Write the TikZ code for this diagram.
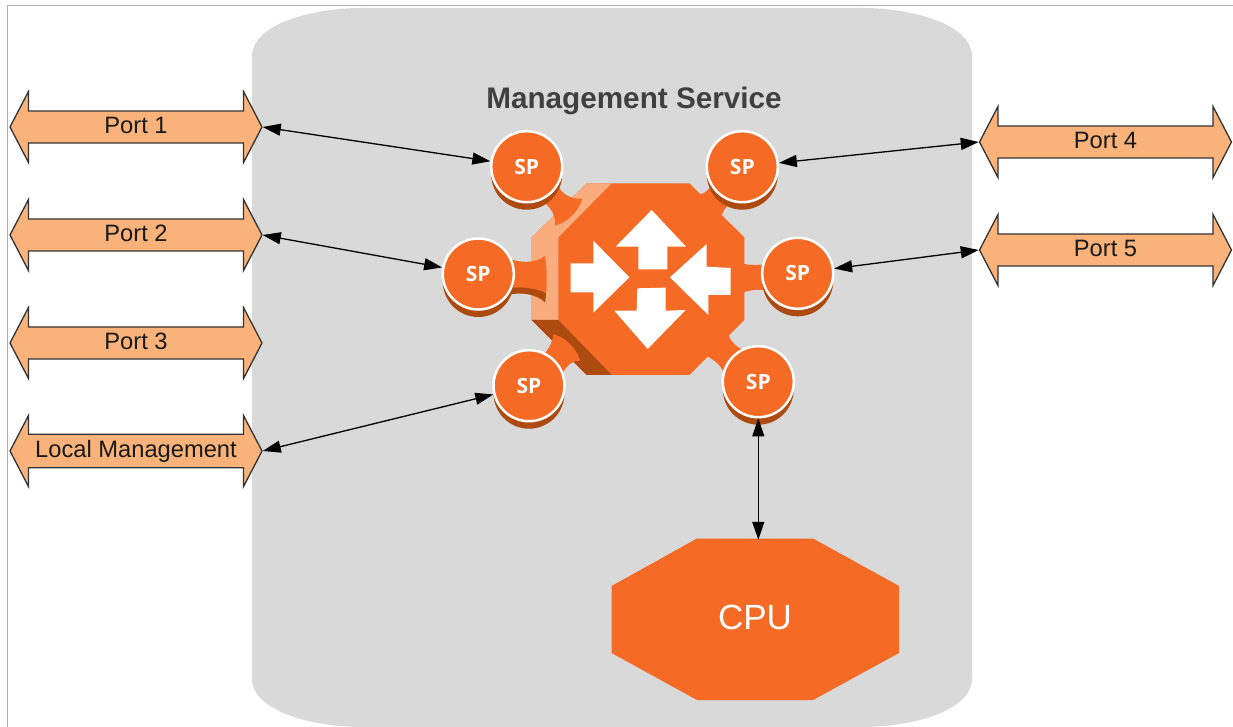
\documentclass[tikz,border=0pt]{standalone}
\usepackage{fontspec}
\setmainfont{Liberation Sans}
\newfontfamily\spfont{Open Sans}
\usetikzlibrary{shapes.arrows,shadows,arrows.meta}
\definecolor{orangeM}{HTML}{F56A24}
\definecolor{orangeD}{HTML}{AD4A10}
\definecolor{orangeL}{HTML}{F9AD7F}
\definecolor{bodygray}{HTML}{D9D9D9}
\definecolor{portfill}{HTML}{F8B27A}
\definecolor{framegray}{HTML}{B0B0B0}
\definecolor{titlegray}{HTML}{404040}
\tikzset{
  portarrow/.style={double arrow, draw=black!80, line width=1.3bp, fill=portfill,
    minimum height=252bp, minimum width=71bp, double arrow head extend=13bp,
    double arrow tip angle=125, inner sep=0pt, text=black!90,
    font=\fontsize{23.7bp}{24bp}\selectfont},
  spnode/.style={circle, fill=orangeM, draw=white, line width=2.5bp, minimum size=71bp,
    inner sep=0pt, text=white, font=\fontsize{21bp}{21bp}\spfont\bfseries,
    general shadow={shadow yshift=-7.5bp, shadow xshift=0bp, fill=orangeD}},
  link/.style={{Triangle[length=18bp,width=12bp]}-{Triangle[length=18bp,width=12bp]}, line width=1.3bp, black},
  whitearrow/.style={fill=white},
  cpubox/.style={rectangle, minimum width=288bp, minimum height=162bp, inner sep=0pt, text=white,
    font=\fontsize{35bp}{35bp}\selectfont},
}
\begin{document}
\begin{tikzpicture}[x=1bp,y=-1bp]
\useasboundingbox (0,0) rectangle (1233,727);
\fill[white] (0,0) rectangle (1233,727);
% frame
\draw[framegray,line width=1bp] (7,727) -- (7,5.5) -- (1233,5.5);
% body
\fill[bodygray] (252,56) .. controls (252,25) and (310,8) .. (362,8)
  -- (862,8) .. controls (914,8) and (972,25) .. (972,56)
  -- (972,679) .. controls (972,710) and (914,727) .. (862,727)
  -- (362,727) .. controls (310,727) and (252,710) .. (252,679) -- cycle;
\node[font=\fontsize{29.7bp}{30bp}\selectfont\bfseries,text=titlegray] (title) at (634,101) {Management Service};
% ports
\node[portarrow] (p1) at (136,127) {\raisebox{3.5bp}{Port 1}};
\node[portarrow] (p2) at (136,235) {\raisebox{3.5bp}{Port 2}};
\node[portarrow] (p3) at (136,343) {\raisebox{3.5bp}{Port 3}};
\node[portarrow] (pl) at (136,451) {\raisebox{3.5bp}{Local Management}};
\node[portarrow] (p4) at (1105.5,142) {\raisebox{3.5bp}{Port 4}};
\node[portarrow] (p5) at (1105.5,250) {\raisebox{3.5bp}{Port 5}};
% router, in zoom coordinates
\begin{scope}[shift={(430,120)},x=0.33333bp,y=-0.33333bp]
  \fill[orangeM] (470,190) -- (778,190) -- (943,352) -- (943,600) -- (778,765) -- (470,765) -- (305,600) -- (305,352) -- cycle;
  \fill[orangeL] (305,352) -- (470,190) -- (545,190) -- (385,352) -- (385,600) -- (305,600) -- cycle;
  \fill[orangeD] (305,600) -- (385,600) -- (545,765) -- (470,765) -- cycle;
  % stubs
  \fill[orangeM] (385,200) .. controls (400,225) and (425,238) .. (457,236)
     .. controls (445,275) and (415,305) .. (375,317)
     .. controls (378,290) and (365,265) .. (340,245) -- cycle;
  \fill[orangeM] (235,415) .. controls (270,430) and (315,430) .. (345,408)
     .. controls (352,450) and (352,500) .. (345,547)
     .. controls (320,515) and (270,505) .. (235,512) -- cycle;
  \fill[orangeD] (235,506) .. controls (270,498) and (320,505) .. (348,520)
     -- (345,547) .. controls (320,522) and (270,515) .. (235,525) -- cycle;
  \fill[orangeM] (340,705) .. controls (358,685) and (368,665) .. (370,643)
     .. controls (405,650) and (440,685) .. (450,722)
     .. controls (430,722) and (415,732) .. (400,755) -- cycle;
  \fill[orangeM] (800,225) .. controls (815,225) and (830,215) .. (838,205)
     -- (895,255) .. controls (885,265) and (878,275) .. (875,290) -- cycle;
  \fill[orangeM] (935,430) .. controls (955,436) and (980,436) .. (1010,432)
     -- (1010,510) .. controls (980,508) and (955,510) .. (935,520) -- cycle;
  \fill[orangeM] (895,645) .. controls (905,668) and (920,682) .. (945,692)
     -- (885,765) .. controls (875,740) and (858,722) .. (830,708) -- cycle;
  % arrows
  \fill[whitearrow] (665,270) -- (768,380) -- (712,380) -- (712,448) -- (625,448) -- (625,380) -- (557,380) -- cycle;
  \fill[whitearrow] (598,472) -- (490,578) -- (490,517) -- (422,517) -- (422,430) -- (490,430) -- (490,362) -- cycle;
  \fill[whitearrow] (720,472) -- (830,372) -- (830,440) -- (902,444) -- (902,525) -- (835,525) -- (835,585) -- cycle;
  \fill[whitearrow] (653,687) -- (553,572) -- (620,572) -- (622,505) -- (707,503) -- (707,572) -- (767,570) -- cycle;
\end{scope}
% service points
\node[spnode] (sp1) at (526.7,166.7) {SP};
\node[spnode] (sp2) at (478.3,274) {SP};
\node[spnode] (sp3) at (529,385.7) {SP};
\node[spnode] (sp4) at (742.3,166.7) {SP};
\node[spnode] (sp5) at (797.7,273.3) {SP};
\node[spnode] (sp6) at (758.3,381.7) {SP};
% CPU
\fill[orangeM] (697,538.5) -- (813,538.5) -- (899,586) -- (899,653) -- (813,700) -- (697,700) -- (611.5,653) -- (611.5,586) -- cycle;
\node[cpubox] (cpu) at (755,619) {\raisebox{3bp}{CPU}};
% links
\draw[link] (p1.east) -- (sp1);
\draw[link] (p2.east) -- (sp2);
\draw[link] (pl.east) -- (sp3);
\draw[link] (p4.west) -- (sp4);
\draw[link] (p5.west) -- (sp5);
\draw[link,shorten >=-2bp] (sp6.south) -- (sp6.south |- cpu.north);
\end{tikzpicture}
\end{document}
